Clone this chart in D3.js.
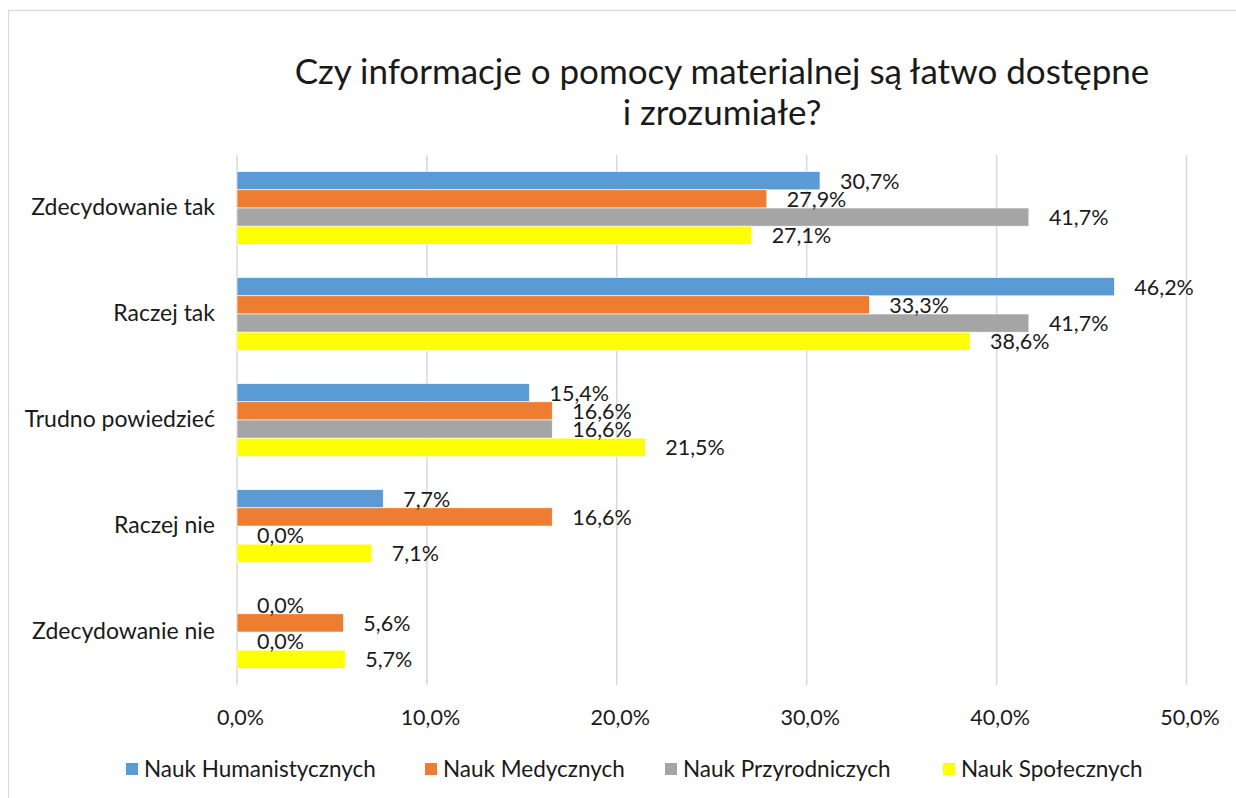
<!DOCTYPE html>
<html>
<head>
<meta charset="utf-8">
<script src="https://cdn.jsdelivr.net/npm/d3@7"></script>
<style>
  html, body { margin: 0; padding: 0; background: #fff; }
  svg { display: block; font-family: Lato, "Open Sans", sans-serif; }
</style>
</head>
<body>
<svg id="chart" width="1236" height="798"></svg>
<script>
const titleLines = ["Czy informacje o pomocy materialnej są łatwo dostępne", "i zrozumiałe?"];
const categories = ["Zdecydowanie tak", "Raczej tak", "Trudno powiedzieć", "Raczej nie", "Zdecydowanie nie"];
const seriesNames = ["Nauk Humanistycznych", "Nauk Medycznych", "Nauk Przyrodniczych", "Nauk Społecznych"];
const humanistyczne = [30.7, 46.2, 15.4, 7.7, 0.0];
const medyczne = [27.9, 33.3, 16.6, 16.6, 5.6];
const przyrodnicze = [41.7, 41.7, 16.6, 0.0, 0.0];
const spoleczne = [27.1, 38.6, 21.5, 7.1, 5.7];
const xTicks = [0, 10, 20, 30, 40, 50];
const colors = ["#5B9BD5", "#ED7D31", "#A5A5A5", "#FFFF00"];

const seriesValues = [humanistyczne, medyczne, przyrodnicze, spoleczne];
const fmt = v => v.toFixed(1).replace(".", ",") + "%";
const FONT = "Lato, 'Open Sans', sans-serif";

const svg = d3.select("#chart");

// chart border
svg.append("rect").attr("x", 8.5).attr("y", 10.5).attr("width", 1240).attr("height", 800)
  .attr("fill", "none").attr("stroke", "#d9d9d9").attr("stroke-width", 1.2);

// title
const title = svg.append("text").attr("text-anchor", "middle").attr("font-size", 35).attr("fill", "#1a1a1a");
titleLines.forEach((t, i) => {
  title.append("tspan").attr("x", 722).attr("y", 84 + i * 41).text(t);
});

const x = d3.scaleLinear().domain([0, 50]).range([237, 1186.5]);
const y = d3.scaleBand().domain(categories).range([155, 685]).paddingInner(0.314).paddingOuter(0.157);
const y1 = d3.scaleBand().domain(d3.range(seriesNames.length)).range([0, y.bandwidth()]);

// gridlines
svg.append("g").selectAll("line").data(xTicks).join("line")
  .attr("x1", d => x(d)).attr("x2", d => x(d))
  .attr("y1", 155).attr("y2", 685)
  .attr("stroke", "#d9d9d9").attr("stroke-width", 1.5);

// x axis labels
const xAxis = d3.axisBottom(x).tickValues(xTicks).tickSize(0).tickPadding(0).tickFormat(fmt);
const gx = svg.append("g").attr("transform", "translate(3,710)").call(xAxis);
gx.select(".domain").remove();
gx.selectAll("text").attr("font-size", 21.5).attr("fill", "#1a1a1a").attr("font-family", FONT);

// y axis labels
const yAxis = d3.axisLeft(y).tickSize(0).tickPadding(0);
const gy = svg.append("g").attr("transform", "translate(215,0)").call(yAxis);
gy.select(".domain").remove();
gy.selectAll("text").attr("font-size", 23).attr("fill", "#1a1a1a").attr("font-family", FONT);

// bars
const rows = [];
categories.forEach((c, ci) => {
  seriesValues.forEach((vals, si) => rows.push({c, si, v: vals[ci]}));
});
svg.append("g").selectAll("rect").data(rows).join("rect")
  .attr("x", x(0))
  .attr("y", d => y(d.c) + y1(d.si))
  .attr("width", d => x(d.v) - x(0))
  .attr("height", y1.bandwidth())
  .attr("fill", d => colors[d.si])
  .attr("stroke", "#ffffff").attr("stroke-width", 0.6);

// value labels
svg.append("g").selectAll("text").data(rows).join("text")
  .attr("x", d => x(d.v) + 20)
  .attr("y", d => y(d.c) + y1(d.si) + y1.bandwidth() / 2)
  .attr("dy", "0.38em")
  .attr("font-size", 21.5).attr("fill", "#1a1a1a")
  .text(d => fmt(d.v));

// legend
const legend = svg.append("g");
const legendX = [126, 425, 665, 943];
seriesNames.forEach((n, i) => {
  const g = legend.append("g").attr("transform", `translate(${legendX[i]},769)`);
  g.append("rect").attr("x", 0).attr("y", -6).attr("width", 12).attr("height", 12).attr("fill", colors[i]);
  g.append("text").attr("x", 18).attr("y", 0).attr("dy", "0.36em").attr("font-size", 22.5).attr("fill", "#1a1a1a").text(n);
});
</script>
</body>
</html>
